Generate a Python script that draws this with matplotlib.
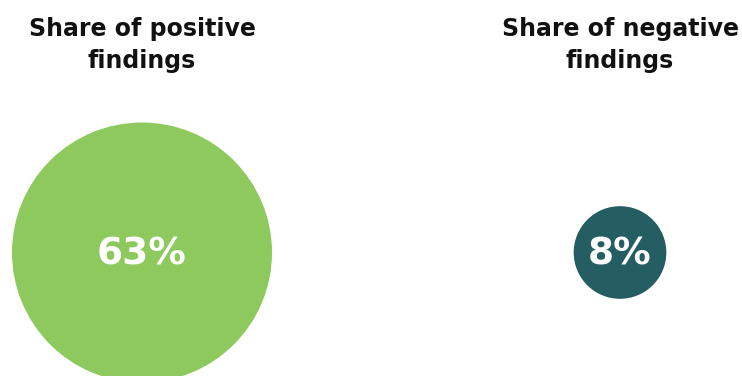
import matplotlib
matplotlib.use('Agg')
import matplotlib.pyplot as plt
from matplotlib.patches import Circle
import numpy as np

plt.rcParams['font.family'] = ['DejaVu Sans']

# data
titles = ['Share of positive\nfindings', 'Share of negative\nfindings']
shares = [63, 8]
colors = ['#8DC95D', '#245E63']

# layout (pixel coords)
centers_x = [142, 620]
center_y = 252.5
scale = 130 / np.sqrt(63)  # circle area proportional to share

fig = plt.figure(figsize=(7.42, 3.76), dpi=100)
ax = fig.add_axes([0, 0, 1, 1])
ax.set_xlim(0, 742)
ax.set_ylim(376, 0)
ax.set_aspect('equal')
ax.axis('off')

for t, v, c, cx in zip(titles, shares, colors, centers_x):
    r = scale * np.sqrt(v)
    ax.add_patch(Circle((cx, center_y), r, color=c, lw=0))
    ax.text(cx, center_y + 2, f'{v}%', ha='center', va='center',
            fontsize=27, fontweight='bold', color='white')
    ax.text(cx, 45, t, ha='center', va='center', fontsize=17,
            fontweight='bold', color='#111111', linespacing=1.4)

fig.savefig('out.png', dpi=100)
